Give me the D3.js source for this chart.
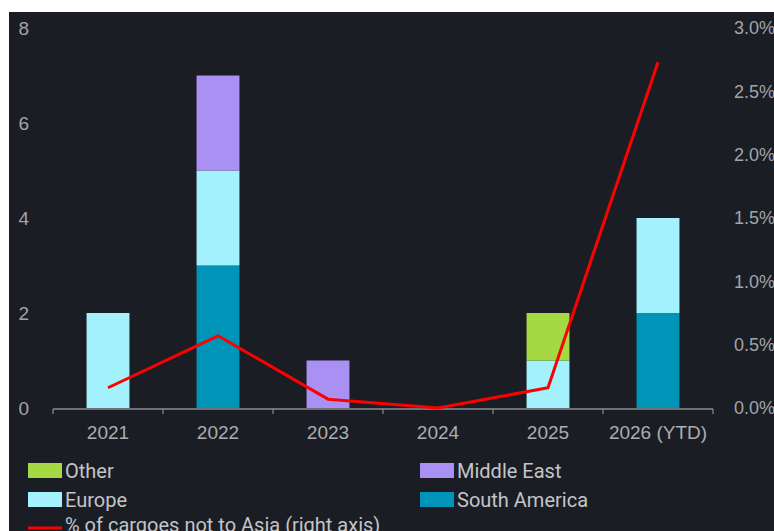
<!DOCTYPE html>
<html>
<head>
<meta charset="utf-8">
<script src="https://cdn.jsdelivr.net/npm/d3@7"></script>
<style>
  html, body { margin: 0; padding: 0; background: #ffffff; }
  svg { display: block; font-family: Roboto, "Noto Sans", sans-serif; }
</style>
</head>
<body>
<div id="chart"></div>
<script>
// categories and series
const years = ["2021", "2022", "2023", "2024", "2025", "2026 (YTD)"];
const seriesNames = ["South America", "Europe", "Middle East", "Other"];
const southAmerica = [0, 3, 0, 0, 0, 2];
const europe = [2, 2, 0, 0, 1, 2];
const middleEast = [0, 2, 1, 0, 0, 0];
const other = [0, 0, 0, 0, 1, 0];
const pctNotAsia = [0.16, 0.57, 0.07, 0.0, 0.16, 2.73];
const leftTicks = [0, 2, 4, 6, 8];
const rightTicks = [0, 0.5, 1.0, 1.5, 2.0, 2.5, 3.0];

const colors = {
  "South America": "#0094b9",
  "Europe": "#a2f1fd",
  "Middle East": "#aa90f3",
  "Other": "#a4d943"
};

const W = 774, H = 531;
const svg = d3.select("#chart").append("svg").attr("width", W).attr("height", H);

// dark panel (white margin at top/left like the screenshot)
svg.append("rect").attr("x", 9).attr("y", 12).attr("width", W - 9).attr("height", H - 12).attr("fill", "#1b1d24");

const x = d3.scaleBand().domain(years).range([53, 713]).paddingInner(0).paddingOuter(0);
const y = d3.scaleLinear().domain([0, 8]).range([408, 28]);
const y2 = d3.scaleLinear().domain([0, 3]).range([408, 28]);

// stacked data
const rows = years.map((yr, i) => ({
  year: yr,
  "South America": southAmerica[i],
  "Europe": europe[i],
  "Middle East": middleEast[i],
  "Other": other[i]
}));
const stack = d3.stack().keys(seriesNames)(rows);

const barW = x.bandwidth() * 0.39;
svg.append("g").selectAll("g")
  .data(stack)
  .enter().append("g")
  .attr("fill", d => colors[d.key])
  .selectAll("rect")
  .data(d => d)
  .enter().append("rect")
  .filter(d => d[1] - d[0] > 0)
  .attr("x", d => x(d.data.year) + x.bandwidth() / 2 - barW / 2)
  .attr("y", d => y(d[1]))
  .attr("width", barW)
  .attr("height", d => y(d[0]) - y(d[1]));

// x axis
const xAxis = svg.append("g")
  .attr("transform", "translate(0,409)")
  .call(d3.axisBottom(x).tickSize(0).tickPadding(20));
xAxis.select(".domain").remove();
xAxis.selectAll("text").attr("fill", "#acadb0").attr("font-size", 19).attr("dy", "0.5em");
svg.append("line").attr("x1", 53).attr("x2", 713).attr("y1", 409).attr("y2", 409)
  .attr("stroke", "#8c8d92").attr("stroke-width", 1.5);
// boundary tick marks
const bounds = years.map(d => x(d)).concat([713]);
svg.append("g").selectAll("line").data(bounds).enter().append("line")
  .attr("x1", d => d).attr("x2", d => d).attr("y1", 409).attr("y2", 414)
  .attr("stroke", "#8c8d92").attr("stroke-width", 1.2);

// left axis
const yAxis = svg.append("g")
  .attr("transform", "translate(29,0)")
  .call(d3.axisLeft(y).tickValues(leftTicks).tickSize(0).tickPadding(0));
yAxis.select(".domain").remove();
yAxis.selectAll("text").attr("fill", "#a3a4a7").attr("font-size", 19);

// right axis
const y2Axis = svg.append("g")
  .attr("transform", "translate(734,0)")
  .call(d3.axisRight(y2).tickValues(rightTicks).tickSize(0).tickPadding(0)
    .tickFormat(d => d.toFixed(1) + "%"));
y2Axis.select(".domain").remove();
y2Axis.selectAll("text").attr("fill", "#a3a4a7").attr("font-size", 18);

// red line
const line = d3.line()
  .x((d, i) => x(years[i]) + x.bandwidth() / 2)
  .y(d => y2(d));
svg.append("path").datum(pctNotAsia)
  .attr("d", line)
  .attr("fill", "none")
  .attr("stroke", "#ff0000")
  .attr("stroke-width", 3)
  .attr("stroke-linejoin", "round");

// legend
const legendItems = [
  { name: "Other", col: 0, row: 0 },
  { name: "Middle East", col: 1, row: 0 },
  { name: "Europe", col: 0, row: 1 },
  { name: "South America", col: 1, row: 1 }
];
const lg = svg.append("g");
legendItems.forEach(it => {
  const lx = it.col === 0 ? 28 : 420;
  const ly = 463 + it.row * 29;
  lg.append("rect").attr("x", lx).attr("y", ly).attr("width", 34).attr("height", 15)
    .attr("fill", colors[it.name]);
  lg.append("text").attr("x", lx + 37).attr("y", ly + 15)
    .attr("fill", "#c4c5c8").attr("font-size", 20).text(it.name);
});
lg.append("line").attr("x1", 28).attr("x2", 62).attr("y1", 528).attr("y2", 528)
  .attr("stroke", "#ff0000").attr("stroke-width", 3);
lg.append("text").attr("x", 65).attr("y", 532)
  .attr("fill", "#c4c5c8").attr("font-size", 20).text("% of cargoes not to Asia (right axis)");
</script>
</body>
</html>
